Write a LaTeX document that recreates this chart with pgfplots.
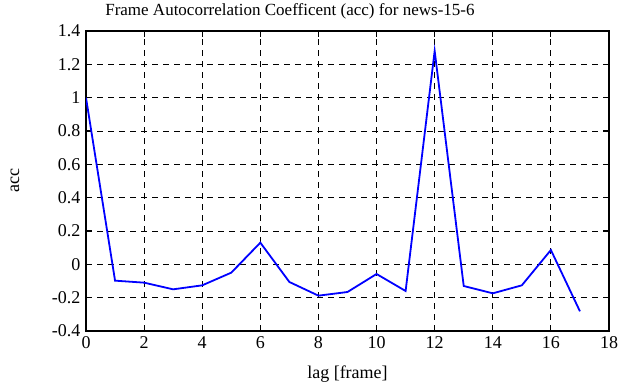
\documentclass[border=0pt]{standalone}
\usepackage{fontspec}
\setmainfont{Liberation Serif}
\usepackage{pgfplots}
\pgfplotsset{compat=1.18}
\begin{document}
\begin{tikzpicture}[x=1pt,y=1pt]
\useasboundingbox (0,0) rectangle (624,387);
\begin{axis}[
  at={(86pt,56pt)}, anchor=south west,
  scale only axis, width=523pt, height=300pt,
  xmin=0, xmax=18, ymin=-0.4, ymax=1.4,
  xtick={0,2,...,18}, ytick={-0.4,-0.2,...,1.4},
  /pgf/number format/assume math mode=true,
  tick align=inside, tick pos=both,
  major tick length=6pt,
  axis line style={line width=1.6pt},
  grid=major,
  major grid style={black, dash pattern=on 6pt off 5pt, line width=0.8pt},
  tick style={black, line width=1.2pt},
  ticklabel style={font=\fontsize{18}{20}\selectfont},
  yticklabel style={xshift=-2pt},
  xticklabel style={yshift=-2pt},
  every axis title shift=0pt,
  title={Frame Autocorrelation Coefficent (acc) for news-15-6},
  title style={font=\fontsize{17}{19}\selectfont, at={(axis description cs:0.39,1.053)}, anchor=base, inner sep=0pt},
  xlabel={lag [frame]}, ylabel={acc},
  label style={font=\fontsize{18}{20}\selectfont},
  xlabel style={at={(axis description cs:0.5,-0.145)}, anchor=center},
  ylabel style={at={(axis description cs:-0.136,0.5)}, anchor=center},
]
\addplot[color={rgb,255:red,0;green,0;blue,255}, line width=1.8pt] coordinates {
(0,1.0) (1,-0.098) (2,-0.11) (3,-0.15) (4,-0.126) (5,-0.05) (6,0.13)
(7,-0.106) (8,-0.188) (9,-0.166) (10,-0.058) (11,-0.16) (12,1.28)
(13,-0.13) (14,-0.174) (15,-0.126) (16,0.086) (17,-0.282)
};
\end{axis}
\end{tikzpicture}
\end{document}
